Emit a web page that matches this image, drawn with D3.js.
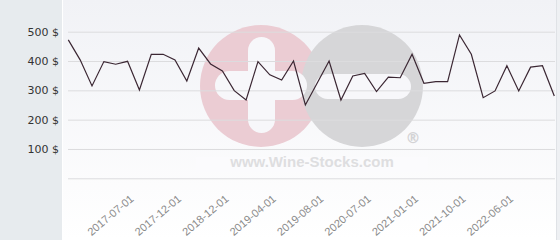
<!DOCTYPE html>
<html>
<head>
<meta charset="utf-8">
<script src="https://cdn.jsdelivr.net/npm/d3@7"></script>
<style>
  html, body { margin: 0; padding: 0; background: #fff; }
  svg { display: block; }
</style>
</head>
<body>
<div id="chart"></div>
<script>
// prices per point
const prices = [472, 404, 315, 398, 389, 399, 301, 423, 423, 404,
                332, 444, 390, 366, 299, 267, 398, 353, 335, 400,
                250, 325, 400, 267, 349, 358, 296, 345, 343, 423,
                324, 330, 330, 489, 423, 275, 298, 384, 298, 379,
                384, 281];

// x axis labels and the point index they sit under
const tickLabels = ["2017-07-01", "2017-12-01", "2018-12-01", "2019-04-01", "2019-08-01",
                    "2020-07-01", "2021-01-01", "2021-10-01", "2022-06-01"];
const tickIndex = [5, 9, 13, 17, 21, 25, 29, 33, 37];

const yTicks = [100, 200, 300, 400, 500];
const gridTicks = [0, 100, 200, 300, 400, 500];

const W = 560, H = 240;
const plot = {left: 68, right: 555, top: 31.7, bottom: 178.3};

const svg = d3.select("#chart").append("svg")
    .attr("width", W)
    .attr("height", H);

// background gradient of the plot area
const defs = svg.append("defs");
const grad = defs.append("linearGradient")
    .attr("id", "bg")
    .attr("x1", 0).attr("y1", 0).attr("x2", 0).attr("y2", 1);
grad.append("stop").attr("offset", "0%").attr("stop-color", "#f1f2f6");
grad.append("stop").attr("offset", "100%").attr("stop-color", "#ffffff");

svg.append("rect")
    .attr("x", 63).attr("y", 0)
    .attr("width", W - 63).attr("height", H)
    .attr("fill", "url(#bg)");

// left grey panel
svg.append("rect")
    .attr("x", 0).attr("y", 0)
    .attr("width", 62).attr("height", H)
    .attr("fill", "#e7ebee");

// right border
svg.append("line")
    .attr("x1", 556.5).attr("x2", 556.5)
    .attr("y1", 0).attr("y2", H)
    .attr("stroke", "#dfe2e6");
svg.append("rect")
    .attr("x", 557).attr("y", 0)
    .attr("width", 3).attr("height", H)
    .attr("fill", "#eef0f3");

// watermark
const wm = svg.append("g").attr("class", "watermark");
wm.append("rect")
    .attr("x", 196).attr("y", 157)
    .attr("width", 232).attr("height", 15)
    .attr("fill", "#fbfbfd");
wm.append("circle")
    .attr("cx", 261).attr("cy", 86).attr("r", 61)
    .attr("fill", "#ebccd3");
wm.append("circle")
    .attr("cx", 362).attr("cy", 86).attr("r", 61)
    .attr("fill", "#d6d6d8");
// white cross in the pink circle
wm.append("rect")
    .attr("x", 248).attr("y", 37)
    .attr("width", 27).attr("height", 96)
    .attr("rx", 13.5)
    .attr("fill", "#f7f7fa");
wm.append("rect")
    .attr("x", 215).attr("y", 71)
    .attr("width", 92).attr("height", 29)
    .attr("rx", 14.5)
    .attr("fill", "#f7f7fa");
// white bar in the grey circle
wm.append("rect")
    .attr("x", 315).attr("y", 74)
    .attr("width", 96).attr("height", 25)
    .attr("rx", 12.5)
    .attr("fill", "#f7f7fa");
wm.append("text")
    .attr("x", 413).attr("y", 143)
    .attr("text-anchor", "middle")
    .attr("font-family", "DejaVu Sans, sans-serif")
    .attr("font-size", 15)
    .attr("font-weight", "bold")
    .attr("fill", "#d3d3d5")
    .text("®");
wm.append("text")
    .attr("x", 312).attr("y", 167)
    .attr("text-anchor", "middle")
    .attr("font-family", "Liberation Sans, Arial, sans-serif")
    .attr("font-size", 15)
    .attr("font-weight", "bold")
    .attr("fill", "#dedee0")
    .text("www.Wine-Stocks.com");

// scales
const x = d3.scaleLinear()
    .domain([0, prices.length - 1])
    .range([68.3, 554.3]);

const y = d3.scaleLinear()
    .domain([0, 500])
    .range([plot.bottom, plot.top]);

// gridlines
svg.append("g")
    .attr("class", "grid")
    .attr("transform", "translate(" + plot.left + ",0)")
    .call(d3.axisLeft(y).tickValues(gridTicks).tickSize(-(plot.right - plot.left)).tickFormat(""))
    .call(g => g.select(".domain").remove())
    .call(g => g.selectAll("line").attr("stroke", "#dcdcde").attr("stroke-width", 1));

// y labels
svg.append("g")
    .attr("class", "y-axis")
    .attr("transform", "translate(59,0)")
    .call(d3.axisLeft(y).tickValues(yTicks).tickSize(0).tickPadding(0).tickFormat(d => d + " $"))
    .call(g => g.select(".domain").remove())
    .call(g => g.selectAll("text")
        .attr("font-family", "DejaVu Sans, sans-serif")
        .attr("font-size", 11)
        .attr("fill", "#333"));

// x labels
svg.append("g")
    .attr("class", "x-axis")
    .attr("transform", "translate(4,197)")
    .call(d3.axisBottom(x).tickValues(tickIndex).tickSize(0).tickPadding(0)
        .tickFormat((d, i) => tickLabels[i]))
    .call(g => g.select(".domain").remove())
    .call(g => g.selectAll("text")
        .attr("font-family", "Liberation Sans, Arial, sans-serif")
        .attr("font-size", 11)
        .attr("fill", "#8a8a8a")
        .attr("text-anchor", "end")
        .attr("y", 0)
        .attr("dy", "0.35em")
        .attr("transform", "rotate(-40)"));

// price line
const line = d3.line()
    .x((d, i) => x(i))
    .y(d => y(d));

svg.append("path")
    .datum(prices)
    .attr("fill", "none")
    .attr("stroke", "#3b2733")
    .attr("stroke-width", 1.2)
    .attr("stroke-linejoin", "miter")
    .attr("d", line);
</script>
</body>
</html>
